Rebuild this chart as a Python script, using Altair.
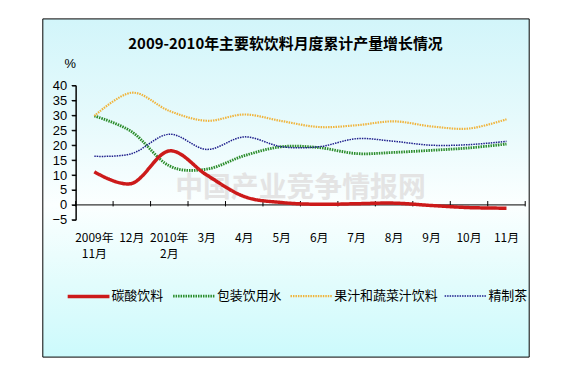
import altair as alt
import pandas as pd

FONT = "Noto Sans CJK SC"
NUM_FONT = "Liberation Sans"

title_text = "2009-2010年主要软饮料月度累计产量增长情况"
watermark_text = "中国产业竞争情报网"
categories = ["2009年\n11月", "12月", "2010年\n2月", "3月", "4月", "5月",
              "6月", "7月", "8月", "9月", "10月", "11月"]
series_names = ["碳酸饮料", "包装饮用水", "果汁和蔬菜汁饮料", "精制茶"]
carbonated = [11.1, 7.2, 18.1, 10.0, 2.8, 0.8, 0.2, 0.4, 0.6, -0.2, -0.9, -1.1]
water = [29.8, 24.5, 13.1, 12.0, 16.5, 19.5, 19.2, 17.2, 17.6, 18.3, 19.1, 20.4]
juice = [29.8, 37.6, 31.5, 28.2, 30.3, 28.1, 26.1, 26.7, 28.0, 26.3, 25.6, 28.7]
tea = [16.3, 17.2, 23.7, 18.6, 22.8, 19.5, 19.5, 22.2, 21.3, 20.0, 20.2, 21.3]
y_ticks = [-5, 0, 5, 10, 15, 20, 25, 30, 35, 40]

colors = ["#cc1a1a", "#2a8c2a", "#f0b43c", "#1e1e8c"]
dashes = [[1, 0], [1.5, 1], [1.5, 1], [1.5, 1]]
widths = [3.5, 1.5, 1.5, 1.5]

rows = []
for name, vals in [("包装饮用水", water), ("果汁和蔬菜汁饮料", juice),
                   ("精制茶", tea), ("碳酸饮料", carbonated)]:
    for m, v in zip(categories, vals):
        rows.append({"month": m, "series": name, "value": v})
df = pd.DataFrame(rows)
months_df = pd.DataFrame({"month": categories})
yticks_df = pd.DataFrame({"tick": y_ticks})
one = pd.DataFrame({"d": [0]})

x_scale = alt.Scale(type="band", paddingInner=0, paddingOuter=0)
x_axis = alt.Axis(title=None, domain=False, ticks=False, labelAngle=0,
                  labelPadding=13, labelFontSize=12, labelFont=FONT,
                  labelColor="black", labelExpr="split(datum.label, '\\n')",
                  labelLineHeight=16, labelOverlap=False, zindex=2)
y_scale = alt.Scale(domain=[-5, 40], nice=False, zero=False)
y_axis = alt.Axis(values=y_ticks, title="%", titleAngle=0, titleX=-6, titleY=-22,
                  titleFontSize=13, titleFontWeight="normal", titleFont=NUM_FONT,
                  titleAlign="center", titleBaseline="middle", titleColor="black",
                  grid=False, domain=True, ticks=True, domainColor="black",
                  tickColor="black", tickSize=4, domainWidth=1, tickWidth=1,
                  labelFontSize=13, labelFont=NUM_FONT, labelColor="black", labelPadding=5,
                  labelOverlap=False, zindex=2)

legend = alt.Legend(orient="none", legendX=-10, legendY=189, direction="horizontal",
                    columns=4, title=None, symbolType="stroke", symbolSize=1764,
                    labelFontSize=13, labelFont=FONT, labelColor="black",
                    labelOffset=0, columnPadding=3, padding=0, labelLimit=300)

box = alt.Chart(one).mark_rect(
    fill=alt.Gradient(gradient="linear", x1=0, x2=0, y1=0, y2=1,
                      stops=[alt.GradientStop(color="#d2f5fa", offset=0),
                             alt.GradientStop(color="#e6fafc", offset=0.3),
                             alt.GradientStop(color="#fbffff", offset=0.55),
                             alt.GradientStop(color="#e2fcfc", offset=0.78),
                             alt.GradientStop(color="#ccfafc", offset=1)]),
    stroke="black", strokeWidth=1
).encode(x=alt.value(-33), x2=alt.value(456), y=alt.value(-67), y2=alt.value(273))

title = alt.Chart(one).mark_text(
    text=title_text, font=FONT, fontSize=15, fontWeight="bold", color="black",
    align="center", baseline="middle"
).encode(x=alt.value(211), y=alt.value(-42))

watermark = alt.Chart(one).mark_text(
    text=watermark_text, font=FONT, fontSize=28, fontWeight="bold", color="#e4e4e4",
    align="center", baseline="middle"
).encode(x=alt.value(226), y=alt.value(104))

# y axis line and its tick marks
y_line = alt.Chart(one).mark_rule(color="black", strokeWidth=1).encode(
    x=alt.value(0.5), y=alt.datum(-5, scale=y_scale, axis=y_axis), y2=alt.datum(40))

y_tickmarks = alt.Chart(yticks_df).mark_rule(color="black", strokeWidth=1).encode(
    x=alt.value(-4), x2=alt.value(0.5),
    y=alt.Y("tick:Q", scale=y_scale, axis=y_axis))

zero_line = alt.Chart(one).mark_rule(color="black", strokeWidth=1).encode(
    y=alt.datum(0, scale=y_scale, axis=y_axis))

ticks = alt.Chart(months_df).mark_rule(color="black", strokeWidth=1).encode(
    x=alt.X("month:N", sort=categories, scale=x_scale, axis=x_axis, bandPosition=0),
    y=alt.datum(-0.5, scale=y_scale, axis=y_axis), y2=alt.datum(1.3))

end_tick = alt.Chart(one).mark_rule(color="black", strokeWidth=1).encode(
    x=alt.value(452), y=alt.datum(-0.5, scale=y_scale, axis=y_axis), y2=alt.datum(1.3))

lines = alt.Chart(df).mark_line(interpolate="cardinal").encode(
    x=alt.X("month:N", sort=categories, scale=x_scale, axis=x_axis, bandPosition=0.5),
    y=alt.Y("value:Q", scale=y_scale, axis=y_axis),
    color=alt.Color("series:N", scale=alt.Scale(domain=series_names, range=colors), legend=legend),
    strokeDash=alt.StrokeDash("series:N", scale=alt.Scale(domain=series_names, range=dashes), legend=legend),
    strokeWidth=alt.StrokeWidth("series:N", scale=alt.Scale(domain=series_names, range=widths), legend=legend),
)

chart = alt.layer(box, title, watermark, y_line, y_tickmarks, zero_line, ticks, end_tick,
                  lines).properties(
    width=452, height=135,
    autosize=alt.AutoSizeParams(type="none"),
    padding={"left": 68, "top": 77, "right": 40, "bottom": 150},
).configure_view(stroke=None).configure(background="white")

chart.save("out.html", embed_options={"renderer": "svg", "actions": False})
